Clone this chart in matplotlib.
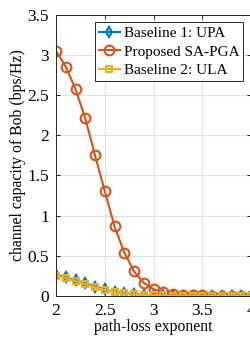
#!/usr/bin/env python3

import numpy as np
from matplotlib import pyplot as plt

plt.rcParams['font.family'] = ['Liberation Serif', 'DejaVu Serif']
plt.rcParams['mathtext.fontset'] = 'stix'

# path-loss exponent 2.0 ... 4.0, step 0.1
exponent = [2.0, 2.1, 2.2, 2.3, 2.4, 2.5, 2.6, 2.7, 2.8, 2.9, 3.0,
            3.1, 3.2, 3.3, 3.4, 3.5, 3.6, 3.7, 3.8, 3.9, 4.0]
upa = [0.26, 0.23, 0.195, 0.155, 0.115, 0.08, 0.05, 0.035, 0.022, 0.014, 0.009,
       0.006, 0.004, 0.003, 0.002, 0.0015, 0.001, 0.001, 0.0007, 0.0005, 0.0004]
proposed = [3.05, 2.855, 2.575, 2.21, 1.75, 1.305, 0.865, 0.54, 0.305, 0.162, 0.083,
            0.046, 0.025, 0.014, 0.008, 0.005, 0.003, 0.002, 0.0012, 0.0008, 0.0005]
ula = [0.25, 0.22, 0.185, 0.145, 0.105, 0.072, 0.045, 0.03, 0.019, 0.012, 0.008,
       0.005, 0.0035, 0.0025, 0.0018, 0.0012, 0.0009, 0.0007, 0.0005, 0.0004, 0.0003]

BLUE = '#0072BD'
ORANGE = '#D95319'
YELLOW = '#EDB120'

fig = plt.figure(figsize=(2.5, 3.37), dpi=100)
ax = fig.add_axes([0.224, 0.122, 0.78, 0.834])

ax.plot(exponent, upa, color=BLUE, lw=1.5, marker='d', ms=5.5,
        mfc='none', mew=1.5, label='Baseline 1: UPA')
ax.plot(exponent, proposed, color=ORANGE, lw=1.5, marker='o', ms=7,
        mfc='none', mew=1.5, label='Proposed SA-PGA')
ax.plot(exponent, ula, color=YELLOW, lw=1.5, marker='s', ms=4.5,
        mfc='none', mew=1.5, label='Baseline 2: ULA')

ax.set_xlim(2, 4)
ax.set_ylim(0, 3.5)
ax.set_xticks([2, 2.5, 3, 3.5, 4])
ax.set_xticklabels(['2', '2.5', '3', '3.5', '4'])
ax.set_yticks([0, 0.5, 1, 1.5, 2, 2.5, 3, 3.5])
ax.set_yticklabels(['0', '0.5', '1', '1.5', '2', '2.5', '3', '3.5'])
ax.tick_params(direction='in', top=True, right=True, labelsize=12.5,
               length=3, width=0.6)
ax.tick_params(axis='y', pad=5)
ax.tick_params(axis='x', pad=5)
ax.grid(True, color='#e0e0e0', lw=0.8)
ax.set_axisbelow(True)
for s in ax.spines.values():
    s.set_linewidth(0.7)
    s.set_color('#262626')

ax.set_xlabel('path-loss exponent', fontsize=11.3, labelpad=0)
ax.set_ylabel('channel capacity of Bob (bps/Hz)', fontsize=11.3, labelpad=1)

leg = ax.legend(loc='upper right', fontsize=11, handlelength=1.4,
                handletextpad=0.25, borderpad=0.25, labelspacing=0.32,
                borderaxespad=0.5, fancybox=False, framealpha=1,
                edgecolor='#262626')
leg.get_frame().set_linewidth(0.7)

plt.savefig('out.png', dpi=100)
plt.close()
